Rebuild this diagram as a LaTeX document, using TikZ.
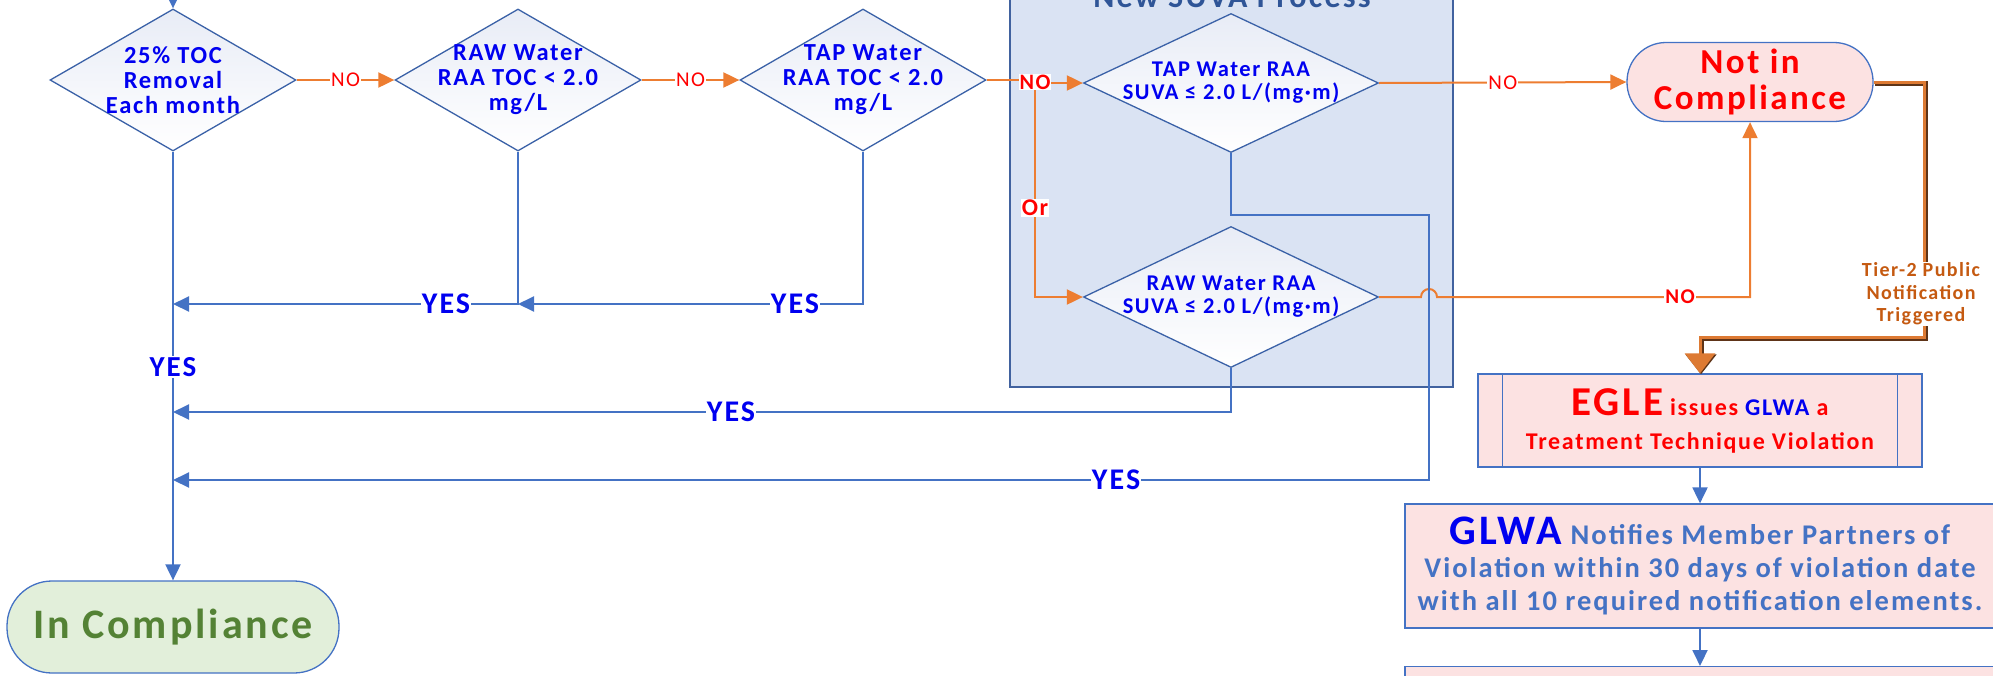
\documentclass[tikz,border=0pt]{standalone}
\usepackage{fontspec}
\setmainfont{Carlito}[LetterSpace=7]
\usetikzlibrary{shapes.geometric,arrows.meta}
\definecolor{flowBlue}{HTML}{4472C4}
\definecolor{flowOrange}{HTML}{ED7D31}
\definecolor{textBlue}{HTML}{0000F0}
\definecolor{textRed}{HTML}{FF0000}
\definecolor{suvaFill}{HTML}{DAE3F3}
\definecolor{suvaEdge}{HTML}{41629F}
\definecolor{suvaTitle}{HTML}{2F5597}
\definecolor{diaTop}{HTML}{E8ECF6}
\definecolor{pinkFill}{HTML}{FCE2E2}
\definecolor{greenFill}{HTML}{E2EFDA}
\definecolor{greenText}{HTML}{548235}
\definecolor{tierOrange}{HTML}{DD7A33}
\definecolor{tierBrown}{HTML}{5E3418}
\definecolor{tierText}{HTML}{C55A11}
\newcommand{\fs}[2]{\fontsize{#1}{#2}\selectfont}

\begin{document}
\begin{tikzpicture}[x=1pt,y=1pt]
  \tikzset{
    decision/.style={diamond,draw=flowBlue!85!black,line width=1.3pt,top color=diaTop,bottom color=white,inner sep=0pt,minimum width=246pt,minimum height=142pt},
    dtext/.style={font=\bfseries\fs{24.5}{25},text=textBlue,align=center},
    stext/.style={font=\bfseries\fs{22.5}{23},text=textBlue,align=center},
    terminal/.style={rectangle,draw=flowBlue,line width=1.3pt,inner sep=0pt,align=center},
    notice/.style={rectangle,draw=flowBlue,line width=1.3pt,fill=pinkFill,inner sep=0pt,align=center},
    yesflow/.style={draw=flowBlue,line width=2pt,-{Triangle[length=16pt,width=15pt]}},
    noflow/.style={draw=flowOrange,line width=2pt,-{Triangle[length=16pt,width=15pt]}},
    tierflow/.style={draw=tierOrange,line width=3pt,preaction={draw=tierBrown,line width=5pt,transform canvas={xshift=1pt,yshift=-1pt}},-{Triangle[length=20pt,width=30pt,fill=tierOrange]}},
    yeslbl/.style={fill=white,inner sep=1pt,text=textBlue,font=\bfseries\fs{30}{30}},
    nolbl/.style={fill=white,inner sep=1pt,text=textRed,font=\fs{21}{21}}
  }
  \path[use as bounding box,clip] (0,0) rectangle (1993,-675);

  % SUVA group box
  \node[draw=suvaEdge,line width=1.5pt,fill=suvaFill,inner sep=0pt,minimum width=443pt,minimum height=447pt] (suva) at (1231.5,-163.5) {};
  \node[font=\bfseries\fs{32}{32},text=suvaTitle,anchor=base] (suvatitle) at (1232,-7.5) {New SUVA Process};

  % decisions
  \node[decision,label={[dtext]center:{25\% TOC\\Removal\\Each month}}] (toc) at (173,-80) {};
  \node[decision,label={[dtext]center:{RAW Water\\RAA TOC < 2.0\\mg/L}}] (rawtoc) at (518,-80) {};
  \node[decision,label={[dtext]center:{TAP Water\\RAA TOC < 2.0\\mg/L}}] (taptoc) at (863,-80) {};
  \node[decision,minimum width=295pt,minimum height=139pt,label={[stext]center:{TAP Water RAA\\SUVA ≤ 2.0 L/(mg·m)}}] (tapsuva) at (1231,-83) {};
  \node[decision,minimum width=295pt,minimum height=141pt,label={[stext]center:{RAW Water RAA\\SUVA ≤ 2.0 L/(mg·m)}}] (rawsuva) at (1231,-297) {};

  % outcomes
  \node[terminal,fill=pinkFill,rounded corners=39pt,minimum width=246pt,minimum height=79pt,text=textRed,font=\bfseries\fs{35}{36}] (notin) at (1750,-82) {Not in\\Compliance};
  \node[terminal,fill=greenFill,rounded corners=45pt,minimum width=332pt,minimum height=92pt,text=greenText,font=\bfseries\fs{42}{42}] (incomp) at (173,-627) {In Compliance};

  \node[notice,minimum width=444pt,minimum height=93pt,text=textRed,font=\bfseries\fs{24}{34}] (egle) at (1700,-420.5)
    {{\fs{41}{41}EGLE} issues \textcolor{textBlue}{GLWA} a\\Treatment Technique Violation};
  \draw[flowBlue,line width=1.3pt] ([xshift=25pt]egle.north west) -- ([xshift=25pt]egle.south west)
    ([xshift=-25pt]egle.north east) -- ([xshift=-25pt]egle.south east);
  \node[notice,minimum width=590pt,minimum height=124pt,text=flowBlue,font=\bfseries\fs{28.5}{33}] (glwa) at (1700,-566)
    {{\fs{42}{42}\textcolor{textBlue}{GLWA}} Notifies Member Partners of\\Violation within 30 days of violation date\\with all 10 required notification elements.};
  \node[notice,minimum width=590pt,minimum height=60pt,anchor=north] (nextstep) at (1700,-666) {};

  % NO branches
  \coordinate (entry) at (173,20);
  \coordinate (split) at (1035,-80);
  \draw[yesflow] (entry) -- (toc.north);
  \draw[noflow] (toc.east) -- (rawtoc.west) node[nolbl,midway] {NO};
  \draw[noflow] (rawtoc.east) -- (taptoc.west) node[nolbl,midway] {NO};
  \draw[flowOrange,line width=2pt] (taptoc.east) -- (split);
  \draw[noflow] (split) |- (tapsuva.west);
  \draw[noflow] (split) |- (rawsuva.west);
  \node[nolbl,font=\bfseries\fs{22}{22}] at (1035,-82) {NO};
  \node[nolbl,font=\bfseries\fs{24}{24}] at (1035,-208) {Or};
  \draw[noflow] (tapsuva.east) -- (notin.west) node[nolbl,midway] {NO};
  \draw[noflow] (rawsuva.east) -- (1421,-297) arc[start angle=180,end angle=0,radius=8] -- (notin.south |- rawsuva.east) -- (notin.south);
  \node[nolbl,font=\bfseries\fs{21}{21}] at (1680,-297) {NO};

  % YES branches
  \coordinate (yesA) at (0,-304);
  \coordinate (yesB) at (0,-412);
  \coordinate (yesC) at (0,-480);
  \coordinate (tapbend) at (1429,-215);
  \draw[yesflow] (rawtoc.south) |- (toc.south |- yesA);
  \draw[yesflow] (taptoc.south) |- (rawtoc.south |- yesA);
  \draw[yesflow] (toc.south) -- (incomp.north);
  \draw[yesflow] (rawsuva.south) |- (toc.south |- yesB);
  \draw[yesflow] (tapsuva.south) |- (tapbend) |- (toc.south |- yesC);
  \node[yeslbl] at (446,-304) {YES};
  \node[yeslbl] at (795,-304) {YES};
  \node[yeslbl,font=\bfseries\fs{29}{29}] at (173,-367) {YES};
  \node[yeslbl] at (731,-412) {YES};
  \node[yeslbl] at (1116,-480) {YES};

  % notification path
  \draw[tierflow] (notin.east) -- (1924,-82) -- (1924,-337) -| (egle.north);
  \node[fill=white,inner sep=1pt,text=tierText,font=\bfseries\fs{20}{22.5},align=center] at (1921,-294) {Tier-2 Public\\Notification\\Triggered};
  \draw[yesflow] (egle.south) -- (glwa.north);
  \draw[yesflow] (glwa.south) -- (nextstep.north);
\end{tikzpicture}
\end{document}
